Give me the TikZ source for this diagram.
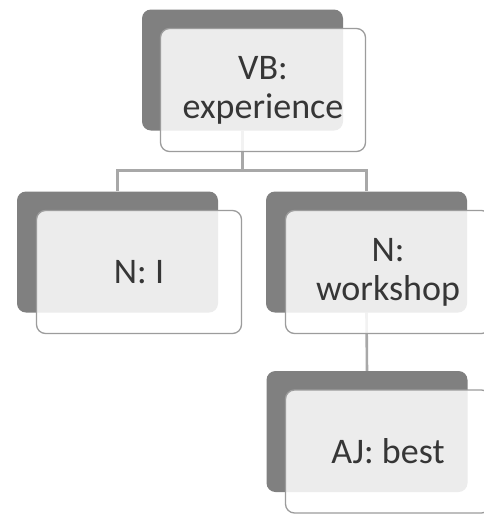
\documentclass[tikz,border=0pt]{standalone}
\usepackage{fontspec}
\setmainfont{Carlito}
\usetikzlibrary{backgrounds}
\definecolor{shade}{HTML}{808080}
\definecolor{rim}{HTML}{9C9C9C}
\definecolor{wire}{HTML}{A8A8A8}
\definecolor{ink}{HTML}{363636}
\tikzset{
  backbox/.style={draw=none, fill=shade, rounded corners=9pt,
    minimum width=201pt, minimum height=121pt, inner sep=0pt},
  frontbox/.style={draw=rim, line width=1.3pt, fill=white, fill opacity=0.85,
    text opacity=1, rounded corners=9pt, minimum width=205pt, minimum height=123pt,
    inner sep=0pt, align=center, text=ink,
    font=\fontsize{36pt}{39pt}\selectfont},
  conn/.style={draw=wire, line width=2.6pt}
}
\begin{document}
\begin{tikzpicture}[x=1pt, y=-1pt]
\useasboundingbox (0,0) rectangle (483,515);
% shadow plates behind each label
\node[backbox] (vbB) at (242.5,70) {};
\node[backbox] (iB) at (117.5,252) {};
\node[backbox] (wsB) at (366.5,252) {};
\node[backbox] (bestB) at (367,431.5) {};
% tree connectors, kept underneath the plates
\begin{scope}[on background layer]
\fill[white] (0,0) rectangle (483,515);
\draw[conn] (vbB.south) -- ++(0,40) -| (iB.north);
\draw[conn] (vbB.south) -- ++(0,40) -| (wsB.north);
\draw[conn] (wsB.south) -- (bestB.north);
\end{scope}
% label cards
\node[frontbox] (vb) at (263,90) {VB:\\experience};
\node[frontbox] (i) at (139,272) {N: I};
\node[frontbox] (ws) at (388,272) {N:\\workshop};
\node[frontbox] (best) at (388,451.5) {AJ: best};
\end{tikzpicture}
\end{document}
